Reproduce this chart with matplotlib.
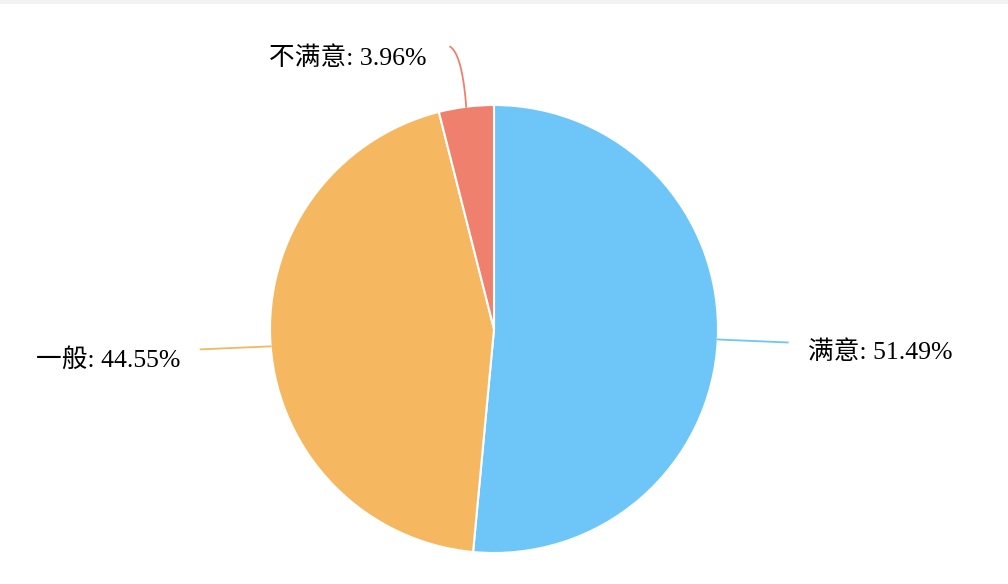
import numpy as np
import matplotlib.pyplot as plt
from matplotlib.patches import Rectangle

plt.rcParams['font.family'] = ['Liberation Serif', 'Noto Sans CJK SC']

# 数据
labels = ['满意', '一般', '不满意']
values = [51.49, 44.55, 3.96]
colors = ['#6ec6f8', '#f5b760', '#f0806e']

W, H = 1008, 584
cx, cy, r = 494, H - 329, 224

fig = plt.figure(figsize=(W / 100, H / 100), dpi=100)
ax = fig.add_axes([0, 0, 1, 1])

# 顶部灰条
ax.add_patch(Rectangle((0, H - 4), W, 4, color='#f2f2f2', lw=0))

wedges, _ = ax.pie(values, colors=colors, startangle=90, counterclock=False,
                   center=(cx, cy), radius=r, frame=True,
                   wedgeprops=dict(edgecolor='white', linewidth=1.5))
ax.set_xlim(0, W)
ax.set_ylim(0, H)
ax.set_aspect('equal')
ax.axis('off')

# 标签与引导线
for w, lab, val, col in zip(wedges, labels, values, colors):
    ang = np.deg2rad((w.theta1 + w.theta2) / 2)
    x0, y0 = cx + r * np.cos(ang), cy + r * np.sin(ang)
    txt = '%s: %.2f%%' % (lab, val)
    if abs(np.cos(ang)) > 0.5:
        # 左右两侧: 水平引线
        sgn = np.sign(np.cos(ang))
        x1 = x0 + sgn * 70
        y1 = y0 - 3
        ax.plot([x0, x1], [y0, y1], color=col, lw=1.3)
        ax.text(x1 + sgn * 20, y1 - 10, txt, fontsize=18.5,
                ha='left' if sgn > 0 else 'right', va='center')
    else:
        # 顶部: 弯曲引线
        t = np.linspace(0, 1, 30)
        p0 = np.array([x0, y0])
        p1 = np.array([x0 - 4, y0 + 52])
        p2 = np.array([x0 - 16, y0 + 60])
        pts = (1 - t)[:, None] ** 2 * p0 + 2 * ((1 - t) * t)[:, None] * p1 + (t ** 2)[:, None] * p2
        ax.plot(pts[:, 0], pts[:, 1], color=col, lw=1.3)
        ax.text(p2[0] - 24, p2[1] - 11, txt, fontsize=18.5, ha='right', va='center')

fig.savefig('out.png', dpi=100)
